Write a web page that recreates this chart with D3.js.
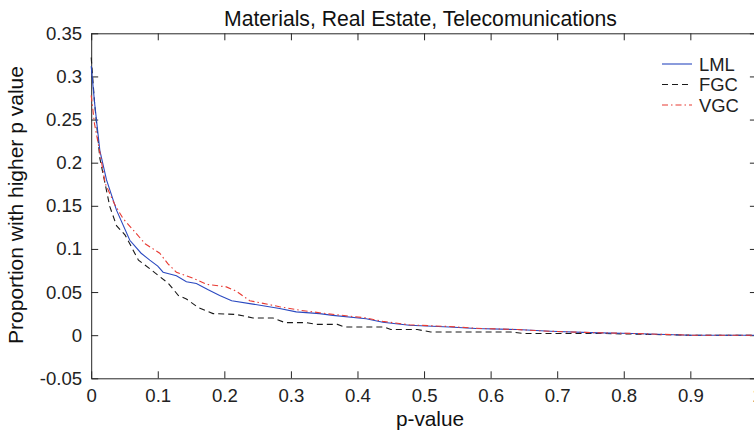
<!DOCTYPE html>
<html>
<head>
<meta charset="utf-8">
<script src="https://cdn.jsdelivr.net/npm/d3@7"></script>
<style>
  html, body { margin: 0; padding: 0; background: #fff; overflow: hidden; }
  svg { display: block; font-family: "Liberation Sans", Arial, Helvetica, sans-serif; }
</style>
</head>
<body>
<svg id="chart" width="754" height="438"></svg>
<script>
// ---- data ----
const title = "Materials, Real Estate, Telecomunications";
const xLabel = "p-value";
const yLabel = "Proportion with higher p value";
const xTicks = [0, 0.1, 0.2, 0.3, 0.4, 0.5, 0.6, 0.7, 0.8, 0.9, 1];
const yTicks = [-0.05, 0, 0.05, 0.1, 0.15, 0.2, 0.25, 0.3, 0.35];
const seriesNames = ["LML", "FGC", "VGC"];

const lmlX = [0, 0.005, 0.013, 0.023, 0.038, 0.058, 0.075, 0.088, 0.1, 0.108, 0.118, 0.128, 0.143, 0.158, 0.175, 0.193, 0.211, 0.243, 0.283, 0.308, 0.343, 0.363, 0.413, 0.438, 0.478, 0.538, 0.578, 0.64, 0.69, 0.75, 0.813, 0.9, 1];
const lmlY = [0.312, 0.27, 0.214, 0.18, 0.145, 0.110, 0.095, 0.087, 0.080, 0.073, 0.071, 0.069, 0.062, 0.060, 0.053, 0.046, 0.040, 0.036, 0.031, 0.027, 0.025, 0.023, 0.019, 0.015, 0.0115, 0.0095, 0.0077, 0.0065, 0.0045, 0.003, 0.0019, 0, 0];

const fgcX = [0, 0.005, 0.013, 0.028, 0.038, 0.051, 0.071, 0.088, 0.116, 0.131, 0.143, 0.161, 0.183, 0.218, 0.243, 0.273, 0.291, 0.323, 0.338, 0.37, 0.38, 0.44, 0.45, 0.49, 0.51, 0.63, 0.65, 0.77, 0.9, 1];
const fgcY = [0.322, 0.27, 0.205, 0.149, 0.127, 0.116, 0.087, 0.077, 0.060, 0.046, 0.042, 0.032, 0.025, 0.024, 0.020, 0.020, 0.0146, 0.0146, 0.0125, 0.0125, 0.0095, 0.0095, 0.0065, 0.0065, 0.0037, 0.0037, 0.0019, 0.0019, 0, 0];

const vgcX = [0, 0.005, 0.013, 0.021, 0.035, 0.048, 0.063, 0.081, 0.103, 0.115, 0.128, 0.153, 0.173, 0.203, 0.218, 0.238, 0.283, 0.313, 0.353, 0.413, 0.438, 0.478, 0.538, 0.578, 0.64, 0.69, 0.75, 0.813, 0.9, 1];
const vgcY = [0.278, 0.245, 0.212, 0.176, 0.152, 0.135, 0.122, 0.106, 0.095, 0.083, 0.073, 0.066, 0.059, 0.056, 0.051, 0.040, 0.033, 0.029, 0.025, 0.020, 0.016, 0.012, 0.010, 0.008, 0.0065, 0.0045, 0.003, 0.002, 0, 0];

// ---- layout ----
const svg = d3.select("#chart");
const L = 91.2, R = 756.9, T = 33.3, B = 378.3;
const x = d3.scaleLinear().domain([0, 1]).range([L, R]);
const y = d3.scaleLinear().domain([-0.05, 0.35]).range([B, T]);
const axisColor = "#262626";
const tickFont = 18.6;

function styleAxis(g) {
  g.selectAll("path.domain").attr("stroke", axisColor).attr("stroke-width", 1);
  g.selectAll(".tick line").attr("stroke", axisColor).attr("stroke-width", 1);
  g.selectAll(".tick text").attr("fill", "#222").attr("font-size", tickFont)
    .attr("font-family", "Liberation Sans, Arial, Helvetica, sans-serif");
}
const fmt = d => String(+(+d).toFixed(2));

svg.append("g").attr("transform", `translate(0,${B})`)
  .call(d3.axisBottom(x).tickValues(xTicks).tickFormat(fmt).tickSizeInner(-7).tickSizeOuter(0).tickPadding(10))
  .call(styleAxis);
svg.append("g").attr("transform", `translate(0,${T})`)
  .call(d3.axisTop(x).tickValues(xTicks).tickFormat("").tickSizeInner(-7).tickSizeOuter(0))
  .call(styleAxis);
svg.append("g").attr("transform", `translate(${L},0)`)
  .call(d3.axisLeft(y).tickValues(yTicks).tickFormat(fmt).tickSizeInner(-7).tickSizeOuter(0).tickPadding(9))
  .call(styleAxis);
svg.append("g").attr("transform", `translate(${R},0)`)
  .call(d3.axisRight(y).tickValues(yTicks).tickFormat("").tickSizeInner(-7).tickSizeOuter(0))
  .call(styleAxis);

// ---- lines ----
const series = [
  { name: seriesNames[0], xs: lmlX, ys: lmlY, color: "#2a49c0", dash: null },
  { name: seriesNames[1], xs: fgcX, ys: fgcY, color: "#1a1a1a", dash: "6,4" },
  { name: seriesNames[2], xs: vgcX, ys: vgcY, color: "#e83a32", dash: "6,3,1.5,3" }
];
const line = d3.line().x(d => x(d[0])).y(d => y(d[1]));
[series[1], series[0], series[2]].forEach(s => {
  svg.append("path")
    .datum(s.xs.map((v, i) => [v, s.ys[i]]))
    .attr("d", line)
    .attr("fill", "none")
    .attr("stroke", s.color)
    .attr("stroke-width", 1.1)
    .attr("stroke-dasharray", s.dash);
});

// ---- legend ----
const lg = svg.append("g");
series.forEach((s, i) => {
  const yy = 64 + i * 20.5;
  lg.append("line").attr("x1", 662).attr("x2", 692).attr("y1", yy).attr("y2", yy)
    .attr("stroke", s.color).attr("stroke-width", 1.1).attr("stroke-dasharray", s.dash);
  lg.append("text").attr("x", 699).attr("y", yy + 6.5).attr("font-size", 18.4)
    .attr("fill", "#222").text(s.name);
});

// ---- titles ----
svg.append("text").attr("x", 420.5).attr("y", 26).attr("text-anchor", "middle")
  .attr("font-size", 21.2).attr("fill", "#111").text(title);
svg.append("text").attr("x", 430).attr("y", 426).attr("text-anchor", "middle")
  .attr("font-size", 20.8).attr("fill", "#111").text(xLabel);
svg.append("text").attr("transform", `translate(22.5,205) rotate(-90)`)
  .attr("text-anchor", "middle").attr("font-size", 21).attr("fill", "#111").text(yLabel);
</script>
</body>
</html>
